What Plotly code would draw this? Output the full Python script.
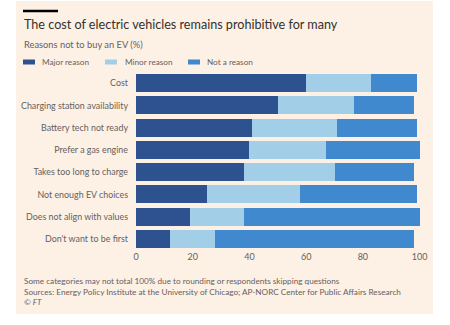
import plotly.graph_objects as go

categories = ["Cost", "Charging station availability", "Battery tech not ready",
              "Prefer a gas engine", "Takes too long to charge", "Not enough EV choices",
              "Does not align with values", "Don't want to be first"]
major = [60, 50, 41, 40, 38, 25, 19, 12]
minor = [23, 27, 30, 27, 32, 33, 19, 16]
not_reason = [16, 21, 28, 33, 28, 41, 62, 70]
series_names = ["Major reason", "Minor reason", "Not a reason"]
colors = ["#2E5190", "#A2CFE7", "#4189CE"]
x_ticks = [0, 20, 40, 60, 80, 100]

FONT = "Lato"
GREY = "#66605C"
BG = "#FDF1E6"

fig = go.Figure()
for name, vals, col in zip(series_names, [major, minor, not_reason], colors):
    fig.add_trace(go.Bar(y=categories, x=vals, name=name, orientation="h",
                         marker=dict(color=col, line=dict(width=0)), showlegend=False))

fig.update_layout(
    width=450, height=325,
    barmode="stack", bargap=0.2,
    paper_bgcolor="white", plot_bgcolor=BG,
    margin=dict(l=136, r=29, t=72, b=75),
    font=dict(family=FONT, color=GREY, size=9),
)
fig.update_xaxes(range=[0, 100.5], tickvals=x_ticks, showgrid=False, zeroline=False,
                 showline=False, ticks="", tickfont=dict(size=9, color=GREY))
fig.update_yaxes(categoryorder="array", categoryarray=categories, autorange="reversed",
                 showgrid=False, ticks="", ticklen=0, ticklabelstandoff=7,
                 tickfont=dict(size=8.9, color=GREY))

def px_x(x):
    return (x - 136) / 285

def px_y(y):
    return (250 - y) / 178

shapes = [
    dict(type="rect", xref="paper", yref="paper", layer="below",
         x0=px_x(16), x1=px_x(433), y0=px_y(314), y1=px_y(1),
         fillcolor=BG, line=dict(width=0)),
    dict(type="line", xref="paper", yref="paper", x0=px_x(23), x1=px_x(58),
         y0=px_y(11), y1=px_y(11), line=dict(color="#000000", width=2.5)),
]

ann = []
ann.append(dict(text="The cost of electric vehicles remains prohibitive for many",
                x=px_x(22), y=px_y(25), xanchor="left", yanchor="middle",
                font=dict(size=12.6, color="#33302E", family=FONT)))
ann.append(dict(text="Reasons not to buy an EV (%)", x=px_x(22), y=px_y(44),
                xanchor="left", yanchor="middle", font=dict(size=9.3, color=GREY)))
legend_pos = [(23, 40), (105, 123), (188, 205)]
for (sx, tx), name, col in zip(legend_pos, series_names, colors):
    shapes.append(dict(type="rect", xref="paper", yref="paper", x0=px_x(sx), x1=px_x(sx + 12),
                       y0=px_y(64.5), y1=px_y(59.5), fillcolor=col, line=dict(width=0)))
    ann.append(dict(text=name, x=px_x(tx), y=px_y(62), xanchor="left", yanchor="middle",
                    font=dict(size=8.2, color=GREY)))
footer = ["Some categories may not total 100% due to rounding or respondents skipping questions",
          "Sources: Energy Policy Institute at the University of Chicago; AP-NORC Center for Public Affairs Research",
          "<i>© FT</i>"]
for i, t in enumerate(footer):
    ann.append(dict(text=t, x=px_x(22), y=px_y(281 + i * 10.5), xanchor="left",
                    yanchor="middle", font=dict(size=8.2, color=GREY)))
for a in ann:
    a.update(xref="paper", yref="paper", showarrow=False)
fig.update_layout(annotations=ann, shapes=shapes)

fig.write_html("out.html")
